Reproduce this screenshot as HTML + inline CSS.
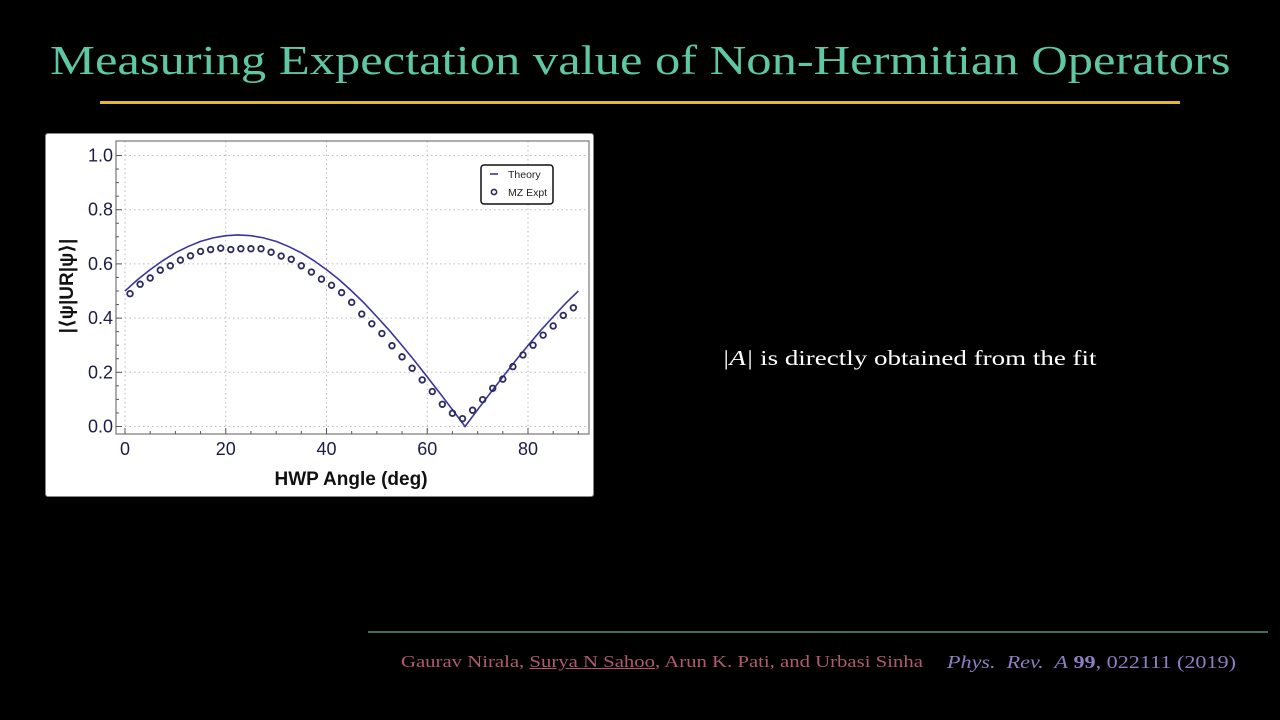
<!DOCTYPE html>
<html><head><meta charset="utf-8"><style>
html,body{margin:0;padding:0;background:#000;width:1280px;height:720px;overflow:hidden}
body{position:relative;font-family:"Liberation Serif",serif}
.sx{position:absolute;white-space:nowrap;transform-origin:0 0}
#title{left:50px;top:36px;color:#5ec8a6;font-size:41px;transform:scaleX(1.233)}
#rule{position:absolute;left:100px;top:101px;width:1080px;height:3px;background:#e2b83a}
#chartbox{position:absolute;left:45px;top:133px;width:547px;height:362px;background:#fff;border:1px solid #888;border-radius:3px}
#fit{left:722px;top:346px;color:#fff;font-size:21px;transform:scaleX(1.285)}
#footrule{position:absolute;left:368px;top:631px;width:900px;height:2px;background:#3f6e5e}
#cite{left:401px;top:652px;font-size:17px;color:#b05a6e;transform:scaleX(1.22)}
#journal{left:947px;top:652px;font-size:18px;color:#8e7fc0;transform:scaleX(1.23)}
</style></head><body>
<div id="title" class="sx">Measuring Expectation value of Non-Hermitian Operators</div>
<div id="rule"></div>
<div id="chartbox">
<svg id="chart" width="547" height="362"></svg>
</div>
<div id="fit" class="sx"><i>|A|</i> is directly obtained from the fit</div>
<div id="footrule"></div>
<div id="cite" class="sx">Gaurav Nirala, <span style="text-decoration:underline">Surya N Sahoo</span>, Arun K. Pati, and Urbasi Sinha</div>
<div id="journal" class="sx"><i>Phys.&nbsp; Rev.&nbsp; A</i> <b>99</b>, 022111 (2019)</div>
<script>
const xTicks=[0,20,40,60,80];
const yTicks=[0.0,0.2,0.4,0.6,0.8,1.0];
const yTickLabels=["0.0","0.2","0.4","0.6","0.8","1.0"];
const theoryX=[0,2.5,5,7.5,10,12.5,15,17.5,20,22.5,25,27.5,30,32.5,35,37.5,40,42.5,45,47.5,50,52.5,55,57.5,60,62.5,65,67.5,70,72.5,75,77.5,80,82.5,85,87.5,90];
const theoryY=[0.50,0.542,0.579,0.612,0.641,0.664,0.683,0.696,0.704,0.707,0.704,0.696,0.683,0.664,0.641,0.612,0.579,0.542,0.50,0.455,0.405,0.354,0.299,0.242,0.183,0.123,0.062,0.0,0.062,0.123,0.183,0.242,0.299,0.354,0.405,0.455,0.50];
const exptX=[1,3,5,7,9,11,13,15,17,19,21,23,25,27,29,31,33,35,37,39,41,43,45,47,49,51,53,55,57,59,61,63,65,67,69,71,73,75,77,79,81,83,85,87,89];
const exptY=[0.49,0.525,0.548,0.577,0.593,0.614,0.63,0.646,0.653,0.658,0.653,0.656,0.656,0.656,0.643,0.629,0.617,0.593,0.570,0.544,0.521,0.494,0.458,0.415,0.379,0.343,0.298,0.257,0.215,0.172,0.129,0.082,0.049,0.029,0.060,0.099,0.141,0.175,0.221,0.264,0.300,0.337,0.371,0.410,0.438];
const ox=45,oy=133;
const X=v=>124-ox+v*5.0375;
const Y=v=>425.5-oy-v*271;
const svg=document.getElementById('chart');
const NS='http://www.w3.org/2000/svg';
function mk(t,a){const e=document.createElementNS(NS,t);for(const k in a)e.setAttribute(k,a[k]);svg.appendChild(e);return e;}
const L=115-ox,R=588-ox,T=140-oy,B=433-oy;
xTicks.forEach(v=>{const g=mk('line',{x1:X(v),x2:X(v),y1:T,y2:B,stroke:'#bbb','stroke-dasharray':'1.5 3'});
});
yTicks.forEach(v=>{const g=mk('line',{x1:L,x2:R,y1:Y(v),y2:Y(v),stroke:'#bbb','stroke-dasharray':'1.5 3'});
});
const fr=mk('rect',{x:L,y:T,width:R-L,height:B-T,fill:'none',stroke:'#777','stroke-width':1.2});

for(let v=0;v<=90;v+=5){const t=mk('line',{x1:X(v),x2:X(v),y1:B,y2:B-(v%20==0?6:3),stroke:'#555'});}
for(let v=0;v<=1.0001;v+=0.05){const t=mk('line',{x1:L,x2:L+(Math.round(v*20)%4==0?6:3),y1:Y(v),y2:Y(v),stroke:'#555'});}
xTicks.forEach(v=>{const t=mk('text',{x:X(v),y:B+21,'text-anchor':'middle','font-family':'Liberation Sans, sans-serif','font-size':18,fill:'#1c1c4a'});t.textContent=v;
});
yTicks.forEach((v,i)=>{const t=mk('text',{x:L-3,y:Y(v)+6,'text-anchor':'end','font-family':'Liberation Sans, sans-serif','font-size':18,fill:'#1c1c4a'});t.textContent=yTickLabels[i];
});
const xl=mk('text',{x:350-ox,y:484-oy,'text-anchor':'middle','font-family':'Liberation Sans, sans-serif','font-size':19,'font-weight':'bold',fill:'#111'});xl.textContent='HWP Angle (deg)';

const yl=mk('text',{x:0,y:0,transform:`translate(${72-ox},${285-oy}) rotate(-90)`,'text-anchor':'middle','font-family':'Liberation Sans, DejaVu Sans, sans-serif','font-size':19,'font-weight':'bold',fill:'#111'});yl.textContent='|⟨ψ|UR|ψ⟩|';

const tl=mk('polyline',{points:theoryX.map((x,i)=>X(x)+','+Y(theoryY[i])).join(' '),fill:'none',stroke:'#3a33a0','stroke-width':1.6});

exptX.forEach((x,i)=>{const c=mk('circle',{cx:X(x),cy:Y(exptY[i]),r:2.8,fill:'none',stroke:'#2a2a60','stroke-width':1.8});
});
const lg=mk('rect',{x:480-ox,y:164-oy,width:72,height:39,rx:3,fill:'#fff',stroke:'#111','stroke-width':1.5});

const l1=mk('line',{x1:489-ox,x2:497-ox,y1:173-oy,y2:173-oy,stroke:'#3a33a0','stroke-width':1.6});
const lt1=mk('text',{x:507-ox,y:177-oy,'font-family':'Liberation Sans, sans-serif','font-size':10.5,fill:'#222'});lt1.textContent='Theory';
const l2=mk('circle',{cx:493-ox,cy:191-oy,r:2.6,fill:'none',stroke:'#2a2a60','stroke-width':1.6});
const lt2=mk('text',{x:507-ox,y:195-oy,'font-family':'Liberation Sans, sans-serif','font-size':10.5,fill:'#222'});lt2.textContent='MZ Expt';
</script>
</body></html>
